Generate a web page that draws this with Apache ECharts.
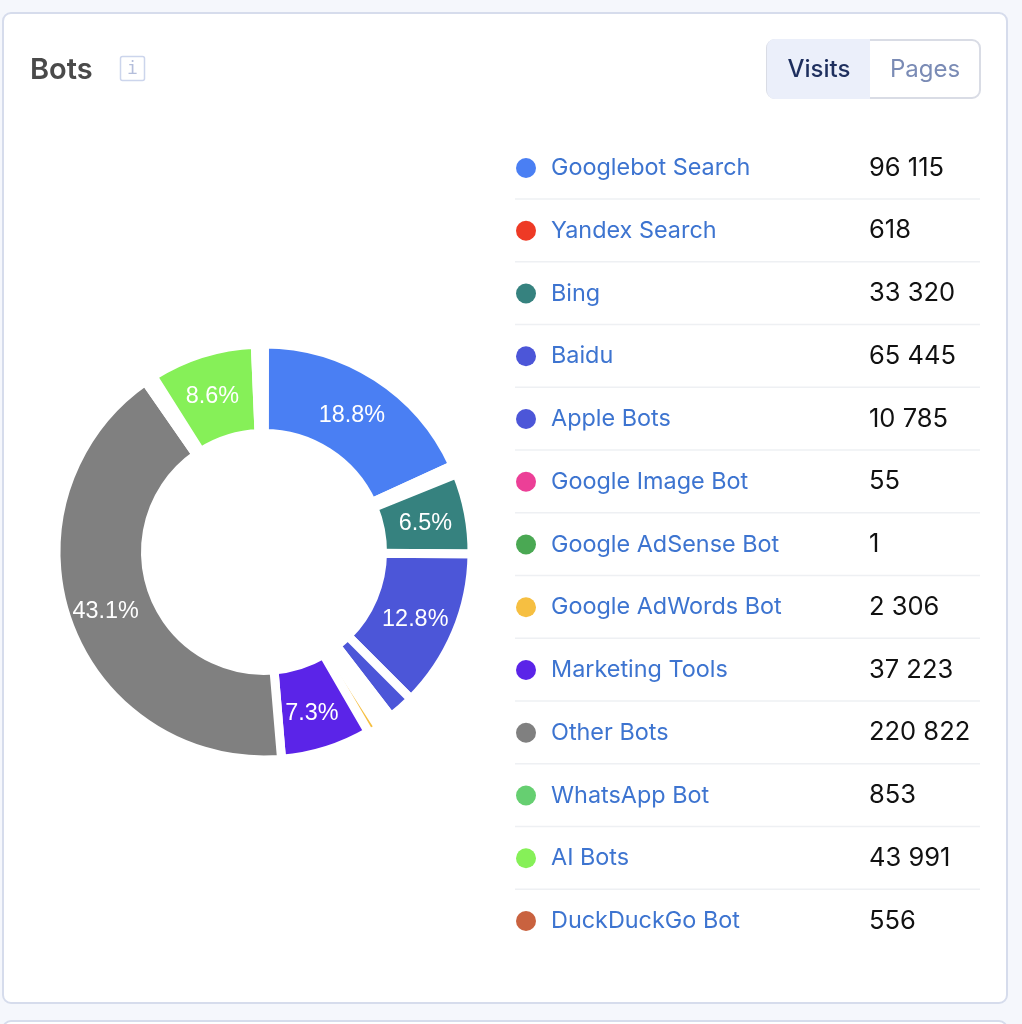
<!DOCTYPE html>
<html><head><meta charset="utf-8">
<style>html,body{margin:0;padding:0;background:#f5f7fc}#c{width:1022px;height:1024px}</style>
<script src="https://cdn.jsdelivr.net/npm/echarts@6/dist/echarts.min.js"></script>
</head><body><div id="c"></div>
<script>
const names = ['Googlebot Search','Yandex Search','Bing','Baidu','Apple Bots','Google Image Bot','Google AdSense Bot','Google AdWords Bot','Marketing Tools','Other Bots','WhatsApp Bot','AI Bots','DuckDuckGo Bot'];
const values = [96115,618,33320,65445,10785,55,1,2306,37223,220822,853,43991,556];
const valueLabels = ['96 115','618','33 320','65 445','10 785','55','1','2 306','37 223','220 822','853','43 991','556'];
const colors = ['#4a7ff3','#ee3a25','#36827f','#4c56d8','#4c56d8','#ec3f97','#4aa853','#f6bf41','#5b24e8','#808080','#66cf71','#86f058','#c9623f'];
const total = values.reduce((a,b)=>a+b,0);
const font = 'Inter';
const rowTop = 167, rowPitch = 62.75;
const chart = echarts.init(document.getElementById('c'));
const graphics = [
  {type:'rect',z:0,shape:{x:3,y:13,width:1004,height:990,r:8},style:{fill:'#fff',stroke:'#d6dcec',lineWidth:2}},
  {type:'rect',z:0,shape:{x:3,y:1021,width:1004,height:30,r:8},style:{fill:'#fff',stroke:'#d6dcec',lineWidth:2}},
  {type:'text',z:2,style:{x:30,y:70,text:'Bots',font:'600 29px '+font,fill:'#4a4a4a',textVerticalAlign:'middle'}},
  {type:'rect',z:2,shape:{x:120.5,y:56.5,width:24,height:24,r:2},style:{fill:'#fff',stroke:'#ccd5ec',lineWidth:1.5}},
  {type:'text',z:2,style:{x:132.5,y:69,text:'i',font:'18px "DejaVu Sans Mono"',fill:'#b4bedb',textAlign:'center',textVerticalAlign:'middle'}},
  {type:'rect',z:1,shape:{x:767,y:40,width:213,height:58,r:8},style:{fill:'#fff',stroke:'#d9dce5',lineWidth:2}},
  {type:'rect',z:2,shape:{x:767,y:39,width:103,height:60,r:[8,0,0,8]},style:{fill:'#ebeffa'}},
  {type:'text',z:3,style:{x:819,y:70,text:'Visits',font:'500 24px '+font,fill:'#1e2f5e',textAlign:'center',textVerticalAlign:'middle'}},
  {type:'text',z:3,style:{x:925,y:70,text:'Pages',font:'400 24px '+font,fill:'#7a8bb5',textAlign:'center',textVerticalAlign:'middle'}}
];
names.slice(0,-1).forEach((n,i)=>{
  const y = rowTop + rowPitch*i + 32;
  graphics.push({type:'line',z:1,shape:{x1:515,y1:y,x2:980,y2:y},style:{stroke:'#eef0f3',lineWidth:1.5}});
});
chart.setOption({
  animation:false,
  backgroundColor:'#f5f7fc',
  graphic:graphics,
  legend:{
    orient:'vertical',left:516,top:rowTop-12,padding:0,itemWidth:20,itemHeight:20,itemGap:rowPitch-26,
    icon:'circle',selectedMode:false,
    itemStyle:{borderWidth:0},
    data:names,
    formatter:n=>`{n|${n}}{v|${valueLabels[names.indexOf(n)]}}`,
    textStyle:{rich:{
      n:{fontFamily:font,fontSize:23.4,color:'#3d74d0',width:318,height:20,lineHeight:20,padding:[0,0,0,10]},
      v:{fontFamily:font,fontSize:25.5,color:'#111',height:20,lineHeight:20}
    }}
  },
  series:[{
    type:'pie',center:[264,552],radius:[118.5,208],startAngle:89.9,clockwise:true,minAngle:2.5,
    avoidLabelOverlap:false,
    itemStyle:{borderColor:'#fff',borderWidth:9},
    labelLine:{show:false},
    data:names.map((n,i)=>({
      name:n,value:values[i],
      itemStyle:Object.assign({color:colors[i]}, n==='Google AdWords Bot'?{borderWidth:5}:{}),
      label:{show:values[i]/total>0.05}
    })),
    label:{position:'inside',color:'#fff',fontFamily:'Liberation Sans',fontSize:23.4,offset:[-2,3],
      formatter:p=>(p.value/total*100).toFixed(1)+'%'}
  }]
});
</script></body></html>
